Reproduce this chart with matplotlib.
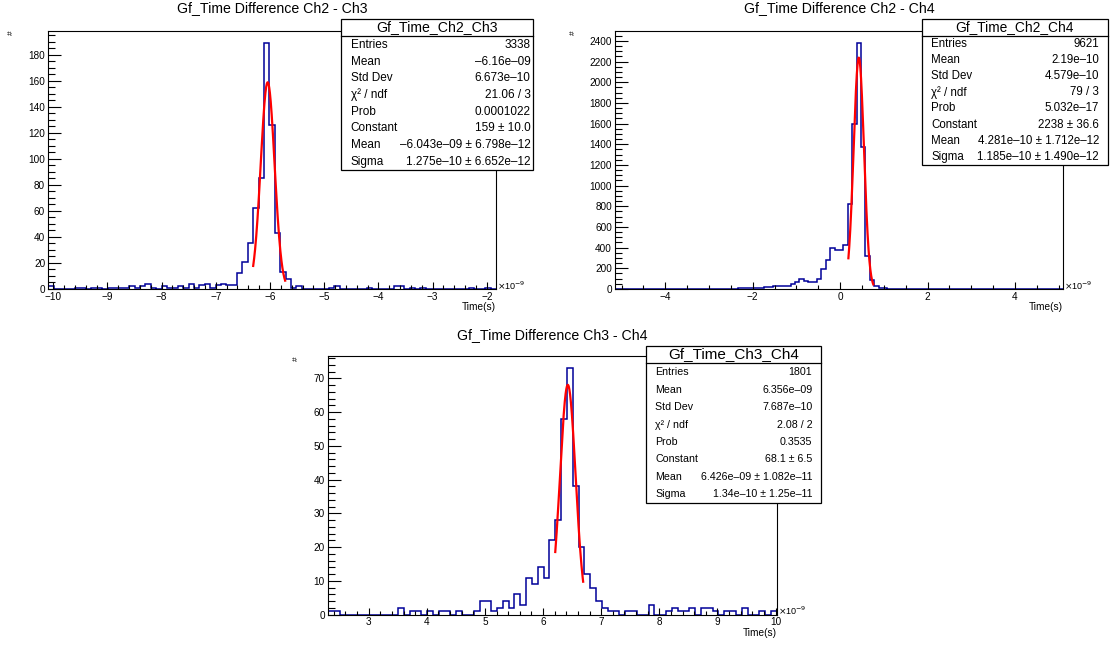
import numpy as np
import matplotlib
matplotlib.use('Agg')
import matplotlib.pyplot as plt
from matplotlib.patches import Rectangle
from matplotlib.lines import Line2D
from matplotlib.ticker import MultipleLocator

plt.rcParams['font.family'] = ['Liberation Sans', 'DejaVu Sans']

W, H = 1111, 646
D = '\u2013'  # ROOT style minus

# ---- data (time axis in units of 1e-9 s) ----
ch23_range = (-10.09, -1.83)
ch23_counts = [2, 0, 0, 0, 0, 1, 1, 0, 1, 1,
               0, 1, 1, 1, 1, 2, 1, 2, 4, 1,
               0, 2, 1, 1, 2, 1, 4, 1, 3, 4,
               1, 3, 4, 3, 3, 12, 21, 35, 62, 85,
               189, 126, 43, 13, 8, 1, 2, 0, 0, 0,
               0, 0, 1, 2, 0, 0, 0, 0, 0, 1,
               0, 0, 0, 0, 2, 2, 0, 1, 0, 1,
               0, 0, 0, 0, 0, 0, 0, 0, 1, 0,
               0, 1, 0]
ch23_fit = (159.0, -6.043, 0.1275)
ch23_fit_range = (-6.31, -5.72)
ch23_stats = [("Entries", "3338"), ("Mean", D + "6.16e" + D + "09"),
              ("Std Dev", "6.673e" + D + "10"), ("\u03c7\u00b2 / ndf", "21.06 / 3"),
              ("Prob", "0.0001022"), ("Constant", "159 \u00b1 10.0"),
              ("Mean", D + "6.043e" + D + "09 \u00b1 6.798e" + D + "12"),
              ("Sigma", "1.275e" + D + "10 \u00b1 6.652e" + D + "12")]

ch24_range = (-5.15, 5.1)
ch24_counts = [0, 0, 0, 0, 0, 0, 0, 0, 0, 0,
               0, 1, 0, 1, 0, 1, 1, 0, 1, 2,
               1, 2, 2, 2, 3, 3, 4, 4, 5, 6,
               6, 8, 10, 12, 16, 22, 29, 30, 28, 29,
               48, 67, 100, 78, 66, 66, 92, 197, 280, 394,
               375, 375, 422, 823, 1594, 2377, 1371, 316, 87, 26,
               12, 6, 3, 2, 2, 1, 1, 0, 1, 0,
               0, 0, 0, 0, 0, 0, 0, 0, 0, 0,
               0, 0, 0, 0, 0, 0, 0, 0, 0, 1,
               1, 0, 0, 0, 0, 0, 0, 0, 0, 0,
               0, 0]
ch24_fit = (2238.0, 0.4281, 0.1185)
ch24_fit_range = (0.19, 0.76)
ch24_stats = [("Entries", "9621"), ("Mean", "2.19e" + D + "10"),
              ("Std Dev", "4.579e" + D + "10"), ("\u03c7\u00b2 / ndf", "79 / 3"),
              ("Prob", "5.032e" + D + "17"), ("Constant", "2238 \u00b1 36.6"),
              ("Mean", "4.281e" + D + "10 \u00b1 1.712e" + D + "12"),
              ("Sigma", "1.185e" + D + "10 \u00b1 1.490e" + D + "12")]

ch34_range = (2.30, 10.02)
ch34_counts = [1, 1, 0, 0, 0, 0, 0, 0, 0, 0,
               0, 0, 2, 0, 1, 1, 0, 1, 0, 1,
               1, 0, 1, 0, 0, 1, 4, 4, 1, 2,
               4, 2, 6, 3, 11, 9, 14, 11, 22, 28,
               58, 73, 38, 20, 12, 8, 4, 2, 1, 1,
               0, 1, 1, 0, 0, 3, 0, 0, 1, 2,
               1, 1, 2, 0, 2, 2, 1, 0, 1, 1,
               0, 2, 0, 0, 1, 0, 1]
ch34_fit = (68.1, 6.426, 0.134)
ch34_fit_range = (6.21, 6.69)
ch34_stats = [("Entries", "1801"), ("Mean", "6.356e" + D + "09"),
              ("Std Dev", "7.687e" + D + "10"), ("\u03c7\u00b2 / ndf", "2.08 / 2"),
              ("Prob", "0.3535"), ("Constant", "68.1 \u00b1 6.5"),
              ("Mean", "6.426e" + D + "09 \u00b1 1.082e" + D + "11"),
              ("Sigma", "1.34e" + D + "10 \u00b1 1.25e" + D + "11")]

fig = plt.figure(figsize=(W / 100, H / 100), dpi=100)


def fx(x):
    return x / W


def fy(y):
    return 1 - y / H


def draw_panel(frame, counts, xr, fit, fit_range, title, name, stats, box,
               xmaj, xmin, ymaj, ymin, title_y, hash_xy):
    x0, y0, x1, y1 = frame
    ax = fig.add_axes([fx(x0), fy(y1), (x1 - x0) / W, (y1 - y0) / H])
    edges = np.linspace(xr[0], xr[1], len(counts) + 1)
    ax.stairs(counts, edges, color='#000099', lw=1.1)
    c, m, s = fit
    xs = np.linspace(fit_range[0], fit_range[1], 200)
    ax.plot(xs, c * np.exp(-0.5 * ((xs - m) / s) ** 2), color='red', lw=1.6)
    ax.set_xlim(xr)
    ax.set_ylim(0, max(counts) * 1.05)
    ax.xaxis.set_major_locator(MultipleLocator(xmaj))
    ax.xaxis.set_minor_locator(MultipleLocator(xmin))
    ax.yaxis.set_major_locator(MultipleLocator(ymaj))
    ax.yaxis.set_minor_locator(MultipleLocator(ymin))
    ax.tick_params(which='both', direction='in', top=False, right=False,
                   labelsize=7.2, width=0.8)
    ax.tick_params(axis='x', which='major', length=5.3, pad=2.0)
    ax.tick_params(axis='x', which='minor', length=2.9)
    ax.tick_params(axis='y', which='major', length=9.4, pad=2.2)
    ax.tick_params(axis='y', which='minor', length=4.8)
    for sp in ax.spines.values():
        sp.set_linewidth(0.8)

    fig.text(fx((x0 + x1) / 2), fy(title_y), title, ha='center', va='center',
             fontsize=10.2)
    fig.text(fx(x1), fy(y1 + 18), "Time(s)", ha='right', va='center', fontsize=7.3)
    fig.text(fx(x1 + 1.5), fy(y1 - 3.5), r'$\times$10$^{-9}$', ha='left',
             va='center', fontsize=6.5)
    fig.text(fx(hash_xy[0]), fy(hash_xy[1]), "#", ha='center', va='center',
             fontsize=6, rotation=90)

    # stats box
    bl, bt, br, bb, hb, r0, step, tl, tr, hy, hfs, rfs = box
    fig.add_artist(Rectangle((fx(bl), fy(bb)), (br - bl) / W, (bb - bt) / H,
                             transform=fig.transFigure, facecolor='white',
                             edgecolor='black', lw=0.9, zorder=5))
    fig.add_artist(Line2D([fx(bl), fx(br)], [fy(hb), fy(hb)],
                          transform=fig.transFigure, color='black', lw=0.9,
                          zorder=6))
    fig.text(fx((bl + br) / 2), fy(hy), name, ha='center', va='center',
             fontsize=hfs, zorder=7)
    for i, (k, v) in enumerate(stats):
        yy = fy(r0 + i * step)
        fig.text(fx(tl), yy, k, ha='left', va='center', fontsize=rfs, zorder=7)
        fig.text(fx(tr), yy, v, ha='right', va='center', fontsize=rfs, zorder=7)
    return ax


draw_panel((48.3, 31, 496, 289), ch23_counts, ch23_range, ch23_fit, ch23_fit_range,
           "Gf_Time Difference Ch2 - Ch3", "Gf_Time_Ch2_Ch3", ch23_stats,
           (340.7, 19, 533, 170, 36, 45, 16.67, 350.7, 530.7, 27.3, 10.2, 8.5),
           1, 0.2, 20, 5, 8, (11.7, 33))

draw_panel((615, 31, 1063, 289), ch24_counts, ch24_range, ch24_fit, ch24_fit_range,
           "Gf_Time Difference Ch2 - Ch4", "Gf_Time_Ch2_Ch4", ch24_stats,
           (921.7, 19, 1108, 165, 36, 44, 16.1, 931, 1099, 27.3, 9.9, 8.3),
           2, 0.5, 200, 50, 8, (573, 33))

draw_panel((328, 356, 776.7, 614.7), ch34_counts, ch34_range, ch34_fit, ch34_fit_range,
           "Gf_Time Difference Ch3 - Ch4", "Gf_Time_Ch3_Ch4", ch34_stats,
           (646, 345.7, 821, 503, 362.7, 372.3, 17.4, 655, 812.3, 354.3, 11, 7.7),
           1, 0.2, 10, 2, 335, (296.7, 359))

fig.savefig('out.png', dpi=100)
